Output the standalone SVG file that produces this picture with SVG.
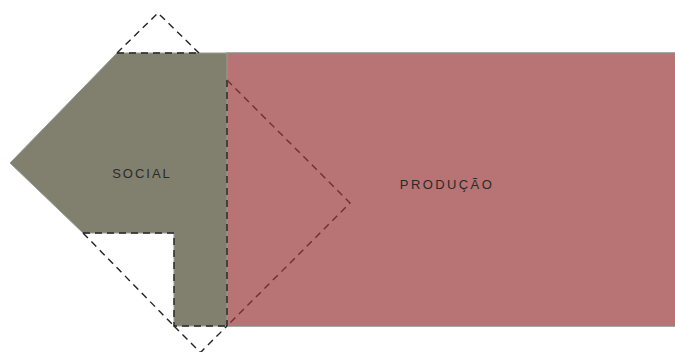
<svg xmlns="http://www.w3.org/2000/svg" width="675" height="352" viewBox="0 0 675 352">
<style>
.lbl{font-family:"Liberation Sans",Arial,sans-serif;font-size:13px;fill:#2a2a2a;letter-spacing:2px;text-anchor:middle}
.dash{fill:none;stroke:#222;stroke-width:1.4;stroke-dasharray:7 5}
.dashr{fill:none;stroke:#6e2e30;stroke-width:1.4;stroke-dasharray:7 5}
</style>
<rect width="675" height="352" fill="#fff"/>
<g id="producao">
<rect x="227" y="53" width="450" height="273" fill="#b87474" stroke="#8a8a8a" stroke-width="1.5"/>
<text class="lbl" x="447" y="189" style="letter-spacing:2.4px">PRODUÇÃO</text>
</g>
<g id="social">
<polygon points="117,53 227,53 227,326 174,326 174,233 83,233 10,163" fill="#81806f" stroke="#9a9a90" stroke-width="1"/>
<text class="lbl" x="142" y="178">SOCIAL</text>
</g>
<g id="connectors">
<polyline class="dash" points="117,53 158,13 199,53"/>
<line class="dash" x1="117" y1="53" x2="199" y2="53"/>
<polyline class="dash" points="83,233 174,233 174,326 227,326"/>
<line class="dash" x1="83" y1="233" x2="174" y2="326"/>
<polyline class="dash" points="174,326 200.5,352.5 227,326"/>
<line class="dash" x1="227" y1="80" x2="227" y2="326"/>
<polyline class="dashr" points="227,80 350,203 227,326"/>
</g>
</svg>
